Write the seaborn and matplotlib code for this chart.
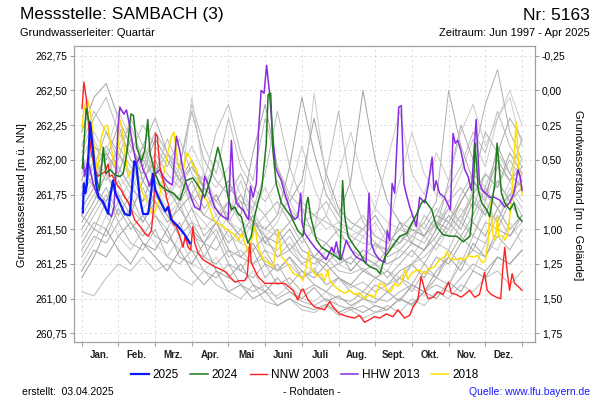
import matplotlib
matplotlib.use('Agg')
import matplotlib.pyplot as plt
import seaborn as sns
import pandas as pd
import numpy as np

# Achsen / Beschriftung
monate = ['Jan.', 'Feb.', 'Mrz.', 'Apr.', 'Mai', 'Juni', 'Juli', 'Aug.', 'Sept.', 'Okt.', 'Nov.', 'Dez.']
nn_ticks = [260.75, 261.00, 261.25, 261.50, 261.75, 262.00, 262.25, 262.50, 262.75]
gelaende = 262.50
ug_ticks = [-0.25, 0.00, 0.25, 0.50, 0.75, 1.00, 1.25, 1.50, 1.75]

# 2025 (blau), x in Monaten ab 1. Jan.
m_2025 = [0.03, 0.06, 0.10, 0.14, 0.23, 0.31, 0.40, 0.46, 0.58, 0.72, 0.76, 0.85, 0.92, 1.04, 1.17, 1.31,
          1.43, 1.49, 1.58, 1.67, 1.81, 1.90, 1.94, 2.01, 2.13, 2.28, 2.35, 2.44, 2.63, 2.81, 2.95]
w_2025 = [261.62, 261.83, 261.76, 261.82, 262.27, 262.07, 261.81, 261.73, 261.70, 261.61, 261.71, 261.85,
          261.76, 261.69, 261.61, 261.60, 261.99, 261.96, 261.73, 261.61, 261.61, 261.78, 261.90, 261.78,
          261.71, 261.63, 261.66, 261.57, 261.52, 261.46, 261.40]

# 2024 (gruen)
m_2024 = [0.02, 0.12, 0.23, 0.36, 0.48, 0.59, 0.66, 0.77, 0.91, 1.04, 1.13, 1.23, 1.34, 1.41, 1.50, 1.63,
          1.72, 1.80, 1.86, 2.00, 2.13, 2.32, 2.50, 2.68, 2.84, 3.03, 3.26, 3.35, 3.53, 3.71, 3.80, 3.90,
          3.99, 4.08, 4.17, 4.26, 4.35, 4.44, 4.53, 4.62, 4.71, 4.80, 4.91, 5.03, 5.08, 5.15, 5.21, 5.30,
          5.44, 5.57, 5.71, 5.89, 6.03, 6.13, 6.17, 6.24, 6.40, 6.54, 6.77, 6.95, 7.04, 7.11, 7.17, 7.26,
          7.45, 7.58, 7.72, 7.86, 8.04, 8.13, 8.26, 8.40, 8.67, 8.86, 9.13, 9.26, 9.35, 9.54, 9.67, 9.85,
          10.04, 10.22, 10.40, 10.58, 10.65, 10.72, 10.81, 10.90, 11.04, 11.12, 11.26, 11.32, 11.44, 11.53,
          11.67, 11.78, 11.89, 12.00]
w_2024 = [261.94, 262.37, 262.24, 261.93, 261.78, 262.09, 261.90, 261.93, 261.89, 261.88, 261.90, 262.05,
          262.33, 262.32, 262.09, 261.99, 262.07, 262.29, 262.05, 261.90, 261.82, 261.78, 261.76, 261.71,
          261.85, 261.87, 261.78, 261.73, 261.88, 262.09, 262.00, 261.88, 261.73, 261.64, 261.66, 261.61,
          261.59, 261.49, 261.40, 261.45, 261.59, 261.69, 261.80, 262.12, 262.47, 262.48, 262.07, 261.83,
          261.69, 261.64, 261.59, 261.49, 261.45, 261.69, 261.73, 261.59, 261.42, 261.37, 261.33, 261.30,
          261.28, 261.85, 261.59, 261.45, 261.37, 261.33, 261.26, 261.23, 261.21, 261.18, 261.30, 261.35,
          261.45, 261.47, 261.61, 261.69, 261.71, 261.64, 261.52, 261.46, 261.45, 261.45, 261.41, 261.45,
          261.61, 262.12, 261.78, 261.69, 261.64, 261.59, 261.83, 262.12, 261.76, 261.69, 261.64, 261.69,
          261.59, 261.56]

# NNW 2003 (rot)
m_2003 = [0.01, 0.06, 0.13, 0.19, 0.26, 0.35, 0.44, 0.53, 0.63, 0.72, 0.76, 0.83, 0.90, 0.99, 1.08, 1.17,
          1.26, 1.35, 1.44, 1.53, 1.62, 1.72, 1.81, 1.90, 1.97, 2.01, 2.06, 2.13, 2.24, 2.31, 2.40, 2.49,
          2.58, 2.67, 2.76, 2.82, 2.90, 2.97, 3.03, 3.08, 3.17, 3.31, 3.44, 3.62, 3.80, 3.94, 4.03, 4.17,
          4.31, 4.44, 4.51, 4.58, 4.62, 4.71, 4.80, 4.99, 5.17, 5.35, 5.53, 5.76, 5.89, 5.98, 6.03, 6.17,
          6.35, 6.62, 6.76, 6.85, 7.03, 7.26, 7.44, 7.57, 7.71, 7.85, 7.98, 8.12, 8.30, 8.48, 8.62, 8.80,
          8.94, 9.03, 9.16, 9.25, 9.35, 9.44, 9.58, 9.71, 9.85, 10.00, 10.07, 10.21, 10.34, 10.48, 10.57,
          10.71, 10.84, 10.98, 11.05, 11.16, 11.30, 11.42, 11.48, 11.53, 11.59, 11.66, 11.73, 11.80, 11.89,
          12.00]
w_2003 = [262.37, 262.56, 262.43, 262.24, 262.05, 261.95, 261.88, 261.90, 261.91, 261.97, 261.88, 261.89,
          261.85, 261.81, 261.78, 261.73, 261.70, 261.64, 261.57, 261.54, 261.51, 261.47, 261.45, 261.49,
          261.69, 262.19, 262.17, 261.95, 261.83, 261.73, 261.64, 261.54, 261.52, 261.45, 261.37, 261.45,
          261.37, 261.35, 261.52, 261.40, 261.33, 261.28, 261.26, 261.23, 261.21, 261.19, 261.16, 261.12,
          261.13, 261.13, 261.16, 261.40, 261.26, 261.21, 261.16, 261.11, 261.11, 261.11, 261.11, 261.06,
          260.99, 261.06, 261.07, 260.99, 260.94, 260.92, 260.98, 260.94, 260.89, 260.87, 260.86, 260.88,
          260.83, 260.85, 260.87, 260.86, 260.89, 260.87, 260.92, 260.86, 260.88, 260.94, 260.99, 261.16,
          261.06, 261.00, 261.01, 261.05, 261.03, 261.12, 261.04, 261.03, 261.01, 261.04, 261.06, 261.01,
          261.03, 261.19, 261.06, 261.03, 261.01, 261.00, 261.23, 261.37, 261.21, 261.06, 261.18, 261.11,
          261.09, 261.06]

# HHW 2013 (violett)
m_2013 = [0.04, 0.08, 0.17, 0.31, 0.40, 0.53, 0.67, 0.81, 0.88, 0.94, 0.99, 1.04, 1.08, 1.15, 1.22, 1.31,
          1.40, 1.49, 1.58, 1.67, 1.76, 1.85, 1.94, 2.13, 2.22, 2.31, 2.40, 2.47, 2.58, 2.67, 2.76, 2.85,
          2.94, 3.08, 3.22, 3.31, 3.35, 3.44, 3.53, 3.62, 3.76, 3.85, 3.99, 4.08, 4.14, 4.21, 4.31, 4.40,
          4.49, 4.55, 4.60, 4.67, 4.76, 4.82, 4.89, 4.97, 5.04, 5.12, 5.21, 5.28, 5.35, 5.44, 5.53, 5.62,
          5.71, 5.80, 5.89, 5.97, 6.01, 6.08, 6.21, 6.35, 6.49, 6.66, 6.82, 6.87, 6.94, 7.00, 7.07, 7.21,
          7.35, 7.48, 7.62, 7.75, 7.83, 7.89, 7.98, 8.12, 8.26, 8.33, 8.39, 8.46, 8.53, 8.64, 8.71, 8.78,
          8.84, 8.94, 9.03, 9.12, 9.21, 9.35, 9.44, 9.55, 9.60, 9.66, 9.75, 9.89, 10.05, 10.12, 10.18, 10.25,
          10.33, 10.44, 10.53, 10.62, 10.75, 10.84, 10.93, 11.12, 11.25, 11.39, 11.53, 11.66, 11.78, 11.89,
          11.95, 12.00]
w_2013 = [262.02, 261.88, 262.00, 261.83, 261.76, 261.71, 261.64, 261.59, 261.66, 261.95, 262.24, 262.38,
          262.36, 262.33, 262.36, 262.24, 262.09, 261.97, 262.02, 261.93, 261.88, 261.81, 261.88, 261.93,
          261.88, 261.85, 261.83, 261.82, 262.17, 262.07, 261.93, 261.83, 261.76, 261.66, 261.64, 261.78,
          261.88, 261.83, 261.73, 261.66, 261.61, 261.59, 261.57, 262.14, 261.83, 261.69, 261.66, 261.64,
          261.59, 261.57, 261.81, 261.73, 261.83, 262.21, 262.50, 262.48, 262.68, 262.48, 262.17, 261.95,
          261.90, 261.85, 261.76, 261.69, 261.61, 261.57, 261.59, 261.76, 261.54, 261.47, 261.42, 261.37,
          261.33, 261.28, 261.37, 261.33, 261.41, 261.33, 261.28, 261.42, 261.35, 261.30, 261.28, 261.26,
          261.76, 261.40, 261.33, 261.28, 261.26, 261.49, 261.42, 261.83, 261.76, 262.38, 262.39, 261.83,
          261.76, 261.66, 261.59, 261.52, 261.73, 261.69, 261.81, 262.02, 261.78, 261.85, 261.76, 261.73,
          261.64, 262.19, 262.12, 262.14, 262.07, 261.93, 261.88, 261.78, 262.29, 261.83, 261.78, 261.73,
          261.73, 261.71, 261.66, 261.69, 261.76, 261.93, 261.88, 261.78]

# 2018 (gelb)
m_2018 = [0.01, 0.06, 0.14, 0.19, 0.27, 0.36, 0.43, 0.54, 0.63, 0.70, 0.77, 0.86, 0.95, 1.04, 1.09, 1.18,
          1.27, 1.36, 1.45, 1.54, 1.63, 1.72, 1.81, 1.91, 2.00, 2.09, 2.18, 2.27, 2.36, 2.45, 2.51, 2.57,
          2.63, 2.77, 2.86, 2.95, 3.04, 3.13, 3.22, 3.31, 3.41, 3.50, 3.59, 3.72, 3.86, 3.99, 4.13, 4.27,
          4.36, 4.45, 4.54, 4.63, 4.72, 4.81, 4.95, 5.08, 5.22, 5.36, 5.45, 5.59, 5.77, 5.95, 6.03, 6.12,
          6.19, 6.26, 6.35, 6.44, 6.53, 6.62, 6.71, 6.76, 6.89, 7.03, 7.17, 7.30, 7.44, 7.57, 7.71, 7.85,
          7.98, 8.12, 8.24, 8.33, 8.42, 8.53, 8.62, 8.71, 8.80, 8.89, 8.98, 9.16, 9.35, 9.44, 9.62, 9.75,
          9.89, 9.96, 10.03, 10.16, 10.30, 10.44, 10.53, 10.66, 10.80, 10.91, 11.00, 11.07, 11.14, 11.21,
          11.27, 11.33, 11.37, 11.48, 11.54, 11.62, 11.71, 11.78, 11.84, 11.91, 11.96, 12.00]
w_2018 = [262.23, 262.36, 262.44, 262.40, 262.29, 262.00, 261.93, 262.17, 262.24, 262.25, 262.14, 262.00,
          261.93, 262.29, 262.24, 262.05, 261.88, 261.92, 261.95, 261.88, 261.78, 261.73, 261.69, 261.61,
          261.63, 261.69, 261.83, 261.95, 262.07, 262.17, 262.20, 262.09, 261.95, 261.93, 262.05, 262.02,
          261.95, 261.93, 261.73, 261.73, 261.71, 261.64, 261.57, 261.54, 261.52, 261.49, 261.47, 261.42,
          261.47, 261.40, 261.33, 261.42, 261.52, 261.37, 261.28, 261.26, 261.23, 261.49, 261.30, 261.26,
          261.18, 261.16, 261.13, 261.23, 261.34, 261.21, 261.18, 261.16, 261.18, 261.13, 261.21, 261.13,
          261.09, 261.06, 261.04, 261.06, 261.03, 261.04, 261.00, 261.03, 261.01, 261.11, 261.10, 261.06,
          261.05, 261.11, 261.09, 261.11, 261.21, 261.14, 261.18, 261.21, 261.18, 261.21, 261.23, 261.28,
          261.30, 261.34, 261.29, 261.28, 261.29, 261.28, 261.31, 261.30, 261.31, 261.26, 261.27, 261.40,
          261.69, 261.45, 261.42, 261.59, 261.45, 261.45, 261.42, 261.49, 261.69, 262.00, 262.27, 261.95,
          261.83, 261.75]

# uebrige Jahre (grau), Werte je Dekade (1., 11., 21. jedes Monats)
dekaden = np.linspace(0, 12, 37)
g01 = [262.05, 262.30, 262.45, 262.20, 262.05, 262.25, 262.10, 261.95, 262.15, 261.90, 261.80, 262.00, 261.80,
       261.70, 261.65, 261.90, 262.35, 261.95, 261.70, 261.60, 261.55, 261.50, 261.45, 261.40, 261.38, 261.35,
       261.40, 261.55, 261.45, 261.60, 261.80, 261.95, 262.20, 262.05, 262.35, 262.10, 261.95]
g02 = [261.85, 262.10, 262.00, 262.25, 262.00, 261.90, 262.15, 262.00, 261.85, 261.95, 261.80, 261.70, 261.85,
       261.65, 261.55, 261.50, 261.60, 261.95, 262.45, 262.05, 261.75, 261.60, 261.85, 262.50, 262.00, 261.70,
       261.55, 261.50, 261.45, 261.55, 261.50, 261.70, 261.85, 261.70, 262.10, 261.90, 261.80]
g03 = [261.70, 261.85, 262.05, 261.80, 261.90, 261.70, 261.80, 261.65, 261.75, 261.55, 261.50, 261.60, 261.45,
       261.40, 261.55, 261.35, 261.30, 261.40, 261.30, 261.25, 261.35, 261.25, 261.20, 261.30, 261.25, 261.20,
       261.35, 261.30, 261.45, 261.35, 261.50, 261.60, 261.45, 261.70, 261.55, 261.80, 261.65]
g04 = [261.30, 261.45, 261.40, 261.55, 261.40, 261.35, 261.50, 261.30, 261.25, 261.35, 261.20, 261.15, 261.25,
       261.10, 261.05, 261.10, 261.00, 261.05, 260.98, 260.95, 261.00, 260.95, 260.92, 260.95, 260.90, 260.92,
       261.00, 260.95, 261.05, 261.10, 261.05, 261.15, 261.25, 261.20, 261.30, 261.25, 261.35]
g05 = [261.05, 261.02, 261.15, 261.25, 261.20, 261.30, 261.20, 261.25, 261.15, 261.10, 261.20, 261.10, 261.05,
       261.00, 261.10, 260.98, 260.95, 261.00, 260.92, 260.90, 260.95, 260.88, 260.92, 260.86, 260.90, 260.95,
       260.90, 261.00, 260.95, 261.05, 261.00, 261.10, 261.05, 261.15, 261.20, 261.10, 261.20]
g06 = [262.20, 262.45, 262.55, 262.30, 262.10, 261.95, 262.20, 262.05, 261.85, 262.00, 261.80, 261.70, 261.60,
       261.75, 261.55, 261.45, 261.40, 261.50, 261.35, 261.30, 261.40, 261.30, 261.25, 261.35, 261.30, 261.25,
       261.30, 261.40, 261.35, 261.50, 261.65, 261.55, 261.75, 261.90, 261.80, 262.05, 261.90]
g07 = [261.60, 261.75, 261.65, 261.90, 261.75, 262.00, 261.85, 261.70, 261.90, 261.65, 261.55, 261.45, 261.60,
       261.40, 261.35, 261.45, 261.30, 261.40, 261.25, 261.20, 261.35, 261.25, 261.30, 261.45, 261.35, 261.50,
       261.85, 262.20, 261.90, 261.75, 261.70, 261.90, 262.15, 261.95, 262.30, 262.45, 262.10]
g08 = [261.50, 261.65, 261.80, 261.60, 261.75, 261.55, 261.70, 261.60, 261.45, 261.55, 261.40, 261.35, 261.50,
       261.30, 261.25, 261.35, 261.20, 261.30, 261.15, 261.20, 261.10, 261.15, 261.10, 261.05, 261.15, 261.20,
       261.10, 261.25, 261.35, 261.50, 261.85, 262.25, 262.00, 262.40, 262.65, 262.20, 262.00]
g09 = [261.75, 262.00, 261.85, 262.10, 262.25, 262.00, 261.90, 262.15, 261.95, 262.40, 262.10, 261.90, 262.30,
       261.95, 261.80, 261.70, 261.85, 261.65, 261.55, 261.50, 261.60, 261.45, 261.40, 261.50, 261.40, 261.35,
       261.45, 261.40, 261.60, 261.50, 261.70, 261.80, 261.65, 261.90, 261.80, 262.00, 261.85]
g10 = [261.55, 261.70, 261.90, 261.75, 261.60, 261.85, 261.70, 261.55, 261.65, 261.50, 261.40, 261.55, 261.35,
       261.30, 261.40, 261.25, 261.20, 261.30, 261.20, 261.15, 261.25, 261.15, 261.10, 261.20, 261.15, 261.10,
       261.20, 261.25, 261.15, 261.30, 261.25, 261.40, 261.55, 261.45, 261.65, 261.50, 261.60]
g11 = [261.90, 262.15, 261.95, 262.05, 261.85, 262.10, 261.90, 261.75, 261.85, 261.70, 261.60, 261.75, 261.55,
       261.50, 261.65, 261.45, 261.55, 261.75, 262.10, 261.80, 261.60, 261.90, 262.20, 261.85, 261.65, 261.55,
       261.50, 261.60, 261.45, 261.55, 261.65, 261.55, 261.80, 261.70, 261.95, 261.85, 262.00]
g12 = [261.40, 261.55, 261.50, 261.70, 261.55, 261.45, 261.60, 261.45, 261.35, 261.50, 261.30, 261.25, 261.35,
       261.20, 261.15, 261.25, 261.10, 261.15, 261.05, 261.10, 261.05, 261.00, 260.98, 261.05, 261.00, 260.98,
       261.05, 261.10, 261.05, 261.15, 261.10, 261.25, 261.35, 261.30, 261.45, 261.35, 261.50]
g13 = [262.10, 262.35, 262.20, 262.00, 262.30, 262.10, 261.90, 262.05, 261.85, 261.75, 261.90, 261.65, 261.55,
       261.70, 261.50, 261.40, 261.35, 261.45, 261.30, 261.25, 261.30, 261.20, 261.18, 261.22, 261.15, 261.20,
       261.15, 261.25, 261.30, 261.40, 261.35, 261.55, 261.45, 261.65, 261.55, 261.75, 261.60]
g14 = [261.65, 261.80, 261.70, 261.95, 261.80, 261.70, 261.95, 261.80, 261.65, 261.75, 261.60, 261.55, 261.70,
       261.60, 262.05, 262.40, 261.95, 261.70, 261.85, 262.30, 261.90, 261.65, 261.55, 261.50, 261.60, 261.45,
       261.40, 261.50, 261.45, 261.60, 261.55, 261.70, 261.85, 261.75, 262.00, 261.85, 261.95]
g15 = [261.25, 261.40, 261.60, 261.45, 261.35, 261.50, 261.40, 261.30, 261.45, 261.25, 261.20, 261.30, 261.15,
       261.10, 261.20, 261.05, 261.02, 261.10, 261.00, 260.98, 261.05, 260.95, 260.93, 261.00, 260.95, 260.92,
       261.00, 261.08, 261.02, 261.15, 261.10, 261.30, 261.20, 261.40, 261.35, 261.55, 261.40]
g16 = [261.80, 261.95, 262.20, 262.05, 261.90, 262.10, 262.30, 262.05, 261.95, 262.35, 262.00, 261.85, 261.75,
       261.90, 261.70, 261.60, 261.70, 261.55, 261.65, 261.45, 261.40, 261.50, 261.35, 261.30, 261.40, 261.30,
       261.35, 261.45, 261.55, 261.70, 262.50, 262.10, 261.85, 262.20, 262.05, 262.30, 262.15]
g17 = [261.45, 261.60, 261.75, 261.55, 261.65, 261.80, 261.60, 261.50, 261.70, 261.45, 261.40, 261.50, 261.30,
       261.35, 261.25, 261.30, 261.20, 261.25, 261.15, 261.22, 261.10, 261.15, 261.08, 261.12, 261.05, 261.10,
       261.15, 261.05, 261.20, 261.15, 261.35, 261.25, 261.45, 261.40, 261.60, 261.45, 261.55]
g18 = [261.95, 261.80, 262.05, 261.90, 262.15, 261.85, 262.00, 261.80, 261.70, 261.85, 261.65, 261.75, 261.55,
       261.45, 261.60, 261.40, 261.50, 261.35, 261.45, 261.30, 261.25, 261.35, 261.20, 261.30, 261.25, 261.35,
       261.55, 261.40, 261.35, 261.45, 261.60, 261.50, 261.70, 261.60, 261.85, 261.70, 261.80]
g19 = [261.60, 261.75, 261.90, 261.70, 261.85, 261.65, 261.75, 261.60, 261.70, 262.45, 261.90, 261.70, 261.60,
       261.85, 261.60, 261.50, 261.45, 261.55, 261.65, 262.48, 261.85, 261.60, 261.50, 261.45, 261.55, 261.40,
       261.35, 261.45, 261.55, 261.40, 261.50, 261.65, 261.55, 261.75, 261.65, 261.85, 261.70]
g20 = [261.35, 261.50, 261.45, 261.65, 261.50, 261.60, 261.45, 261.40, 261.55, 261.35, 261.30, 261.45, 261.25,
       261.20, 261.35, 261.15, 261.25, 261.10, 261.20, 261.10, 261.05, 261.15, 261.05, 261.00, 261.10, 261.05,
       261.15, 261.10, 261.25, 261.15, 261.30, 261.45, 261.35, 261.55, 261.50, 261.70, 261.55]
g21 = [261.75, 261.90, 262.10, 261.95, 261.80, 262.05, 261.85, 261.75, 261.95, 261.70, 261.80, 261.60, 261.70,
       261.55, 261.50, 261.60, 261.45, 261.55, 261.40, 261.50, 261.90, 262.35, 261.80, 261.55, 261.45, 261.40,
       261.50, 261.45, 261.40, 261.55, 261.45, 261.60, 261.75, 261.60, 261.85, 261.70, 261.90]
g22 = [261.20, 261.35, 261.30, 261.45, 261.55, 261.40, 261.35, 261.50, 261.30, 261.25, 261.40, 261.20, 261.15,
       261.25, 261.10, 261.05, 261.15, 261.05, 261.00, 261.08, 260.98, 261.02, 260.95, 261.00, 260.97, 261.05,
       260.98, 261.10, 261.05, 261.20, 261.30, 261.20, 261.40, 261.30, 261.50, 261.45, 261.60]
g23 = [262.00, 262.20, 262.05, 262.35, 262.15, 262.00, 262.20, 262.05, 261.90, 262.10, 261.90, 261.80, 261.95,
       261.75, 261.65, 261.80, 261.60, 261.70, 261.55, 261.60, 261.50, 261.55, 261.45, 261.50, 261.65, 262.00,
       262.35, 261.90, 261.75, 262.05, 261.85, 262.20, 262.40, 262.10, 262.30, 262.50, 262.25]
g24 = [261.60, 261.50, 261.70, 261.85, 261.65, 261.55, 261.75, 261.60, 261.50, 261.65, 261.45, 261.55, 261.40,
       261.50, 261.35, 261.45, 261.30, 261.35, 261.25, 261.30, 261.20, 261.25, 261.30, 261.20, 261.25, 261.15,
       261.25, 261.35, 261.25, 261.40, 261.55, 261.45, 261.60, 261.80, 261.65, 261.75, 261.85]
g25 = [261.80, 262.00, 261.90, 262.10, 261.95, 261.85, 262.05, 261.90, 261.80, 261.95, 261.85, 262.20, 262.40,
       262.05, 261.85, 262.30, 261.95, 261.75, 261.65, 261.60, 261.70, 261.55, 261.50, 261.60, 261.45, 261.40,
       261.50, 261.60, 261.50, 261.65, 261.55, 261.75, 261.90, 261.80, 262.05, 261.90, 262.15]
g26 = [261.15, 261.30, 261.50, 261.35, 261.25, 261.40, 261.30, 261.20, 261.35, 261.20, 261.10, 261.20, 261.05,
       261.10, 261.00, 261.05, 260.95, 261.00, 260.95, 260.92, 260.96, 260.90, 260.94, 260.90, 260.95, 260.92,
       261.00, 260.96, 261.05, 261.00, 261.12, 261.05, 261.20, 261.15, 261.30, 261.25, 261.35]
grau = [g01, g02, g03, g04, g05, g06, g07, g08, g09, g10, g11, g12, g13,
        g14, g15, g16, g17, g18, g19, g20, g21, g22, g23, g24, g25, g26]

plt.rcParams['font.family'] = ['Liberation Sans', 'DejaVu Sans']

fig = plt.figure(figsize=(6, 4), dpi=100)
ax = fig.add_axes([74 / 600, 1 - 341.7 / 400, (535 - 74) / 600, (341.7 - 46) / 400])

df_grau = pd.DataFrame({
    'monat': np.tile(dekaden, len(grau)),
    'wert': np.concatenate(grau),
    'reihe': np.repeat([f'r{i}' for i in range(len(grau))], len(dekaden)),
})
grautoene = ['#bcbcbc', '#a2a2a2', '#cbcbcb', '#afafaf']
sns.lineplot(data=df_grau, x='monat', y='wert', hue='reihe', units='reihe', estimator=None,
             palette=[grautoene[i % 4] for i in range(len(grau))], legend=False, lw=0.7, ax=ax, zorder=2)

serien = [
    (m_2018, w_2018, '#ffe000', 1.1, '2018'),
    (m_2013, w_2013, '#8a2be2', 1.1, 'HHW 2013'),
    (m_2003, w_2003, '#ff2020', 1.0, 'NNW 2003'),
    (m_2024, w_2024, '#1c7c1c', 1.1, '2024'),
    (m_2025, w_2025, '#0a1aff', 1.6, '2025'),
]
for i, (mx, wy, farbe, lw, name) in enumerate(serien):
    sns.lineplot(x=mx, y=wy, color=farbe, lw=lw, label=name, sort=False, estimator=None, ax=ax, zorder=3 + i)

ax.set_xlim(-0.21, 12.354)
ax.set_ylim(260.69, 262.82)
ax.set_xticks(range(13))
ax.set_xticklabels([])
ax.set_xticks(np.arange(12) + 0.5, minor=True)
ax.set_xticklabels(monate, minor=True, fontsize=7, fontweight='bold', color='#222222')
ax.tick_params(axis='x', which='major', length=3, color='#a0a0a0')
ax.tick_params(axis='x', which='minor', length=0, pad=6)
ax.set_yticks(nn_ticks)
ax.set_yticklabels([f'{v:.2f}'.replace('.', ',') for v in nn_ticks], fontsize=7.5)
ax.tick_params(axis='y', length=3, color='#a0a0a0', pad=2)
ax.set_xlabel('')
ax.set_ylabel('')
ax.grid(True, which='major', color='#dadada', lw=0.6, ls=(0, (3, 3)))
ax.set_axisbelow(True)
for s in ax.spines.values():
    s.set_color('#a0a0a0')

ax2 = ax.twinx()
ax2.set_ylim(gelaende - 260.69, gelaende - 262.82)
ax2.set_yticks(ug_ticks)
ax2.set_yticklabels([f'{v:.2f}'.replace('.', ',') for v in ug_ticks], fontsize=7.5)
ax2.tick_params(axis='y', length=3, color='#a0a0a0', pad=2)
for s in ax2.spines.values():
    s.set_color('#a0a0a0')

handles, labels = ax.get_legend_handles_labels()
reihenfolge = ['2025', '2024', 'NNW 2003', 'HHW 2013', '2018']
hmap = dict(zip(labels, handles))
ax.get_legend().remove()
fig.legend([hmap[k] for k in reihenfolge], reihenfolge, loc='center', bbox_to_anchor=(305 / 600, 1 - 375 / 400),
           ncol=5, frameon=False, fontsize=8.5, handlelength=1.5, handletextpad=0.3, columnspacing=1.0)

fig.text(20 / 600, 1 - 15 / 400, 'Messstelle: SAMBACH (3)', fontsize=12.5, ha='left', va='center')
fig.text(590 / 600, 1 - 15 / 400, 'Nr: 5163', fontsize=12.5, ha='right', va='center')
fig.text(20 / 600, 1 - 33 / 400, 'Grundwasserleiter: Quartär', fontsize=8, ha='left', va='center')
fig.text(590 / 600, 1 - 33 / 400, 'Zeitraum: Jun 1997 - Apr 2025', fontsize=8, ha='right', va='center')
fig.text(22 / 600, 1 - 195 / 400, 'Grundwasserstand [m ü. NN]', fontsize=8, rotation=90, ha='center', va='center')
fig.text(578 / 600, 1 - 195 / 400, 'Grundwasserstand [m u. Gelände]', fontsize=8, rotation=270,
         ha='center', va='center')
fig.text(22 / 600, 1 - 392 / 400, 'erstellt:  03.04.2025', fontsize=7.5, ha='left', va='center')
fig.text(312 / 600, 1 - 392 / 400, '- Rohdaten -', fontsize=7.5, ha='center', va='center')
fig.text(590 / 600, 1 - 392 / 400, 'Quelle: www.lfu.bayern.de', fontsize=7.5, ha='right', va='center',
         color='#1a1aff')

fig.savefig('out.png', dpi=100)
